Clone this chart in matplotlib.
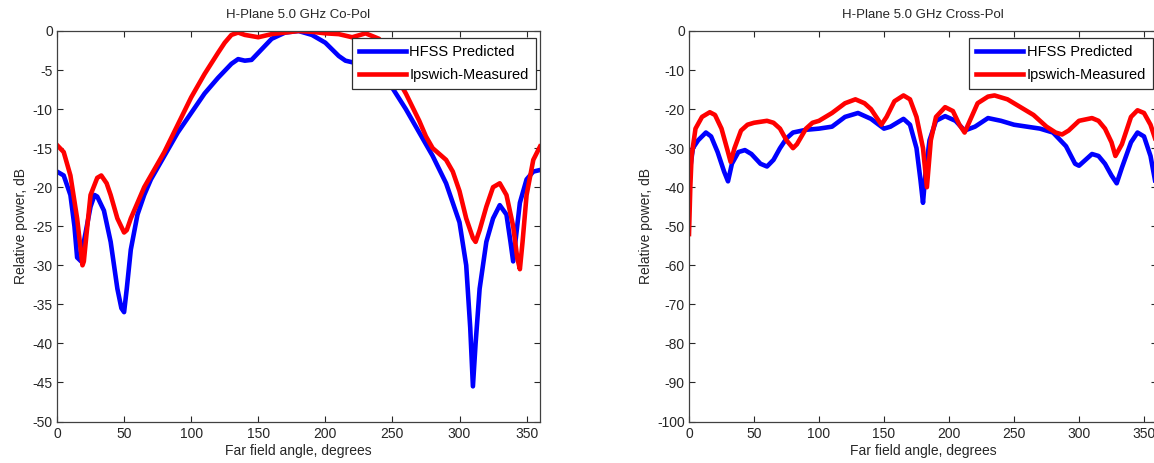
import matplotlib
matplotlib.use("Agg")
import matplotlib.pyplot as plt

plt.rcParams['font.family'] = ['Liberation Sans', 'DejaVu Sans']
plt.rcParams['font.size'] = 10
plt.rcParams['axes.unicode_minus'] = False

# Co-Pol (angle in degrees, level in dB)
co_hfss_ang = [0, 5, 10, 13, 15, 18, 20, 25, 28, 30, 35, 40, 45, 48, 50, 52, 55, 60, 65, 70,
               80, 90, 100, 110, 120, 130, 135, 140, 145, 150, 160, 170, 180, 190, 200, 210,
               215, 220, 230, 240, 250, 260, 270, 280, 290, 300, 305, 308, 310, 312, 315,
               320, 325, 330, 335, 338, 340, 343, 345, 350, 355, 360]
co_hfss_db = [-18, -18.5, -21, -25, -29, -29.5, -27, -22.5, -21, -21.2, -23, -27, -33, -35.5,
              -36, -33, -28, -23.5, -21, -19, -16, -13, -10.5, -8, -6, -4.2, -3.6, -3.8, -3.7,
              -2.8, -1, -0.2, 0, -0.5, -1.5, -3.2, -3.8, -4, -4, -5, -7.3, -10, -13, -16,
              -19.5, -24.5, -30, -38, -45.5, -40, -33, -27, -24, -22.3, -23.5, -27, -29.5,
              -25, -22, -19, -18, -17.8]

co_meas_ang = [0, 5, 10, 15, 18, 19, 20, 22, 25, 30, 33, 37, 40, 45, 50, 52, 55, 60, 65, 70,
               80, 90, 100, 110, 120, 125, 130, 135, 140, 150, 160, 170, 180, 190, 200, 210,
               220, 230, 240, 250, 255, 260, 270, 275, 280, 290, 295, 300, 305, 310, 312,
               315, 320, 325, 330, 335, 340, 343, 345, 347, 350, 355, 360]
co_meas_db = [-14.6, -15.5, -18.5, -24, -28.5, -30, -29.5, -26, -21, -18.8, -18.5, -19.5, -21,
              -24, -25.8, -25.5, -24, -22, -20, -18.5, -15.5, -12, -8.5, -5.5, -2.8, -1.5,
              -0.5, -0.2, -0.5, -0.8, -0.4, -0.2, 0, -0.1, -0.3, -0.4, -0.8, -0.3, -1, -4,
              -6.5, -8, -11.5, -13.5, -15, -16.5, -18, -20.5, -24, -26.5, -27, -25.5, -22.5,
              -20, -19.5, -21, -25, -29, -30.5, -27, -21, -16.5, -14.8]

# Cross-Pol
x_hfss_ang = [0, 1, 3, 7, 13, 17, 22, 27, 30, 33, 38, 43, 48, 55, 60, 65, 70, 75, 80, 90,
              100, 110, 120, 130, 140, 150, 155, 165, 170, 175, 178, 180, 182, 185, 190, 197,
              205, 212, 220, 230, 240, 250, 260, 270, 280, 290, 297, 300, 305, 310, 315, 320,
              325, 329, 333, 340, 345, 350, 355, 360]
x_hfss_db = [-40, -35, -30, -28, -26, -27, -31, -36, -38.5, -34, -31, -30.5, -31.5, -34, -34.7,
             -33, -30, -27.5, -26, -25.3, -25, -24.5, -22, -21, -22.5, -25, -24.5, -22.5, -24,
             -30, -38, -44, -36, -28, -23, -21.8, -23, -25.5, -24.5, -22.3, -23, -24, -24.5,
             -25, -26, -29.5, -34, -34.5, -33, -31.5, -32, -34, -37, -39, -35, -28.5, -26,
             -27, -32, -41]

x_meas_ang = [0, 1, 2, 5, 10, 16, 20, 25, 30, 32, 35, 40, 45, 50, 60, 65, 70, 75, 80, 83, 90,
              95, 100, 110, 120, 128, 135, 140, 145, 148, 152, 158, 165, 170, 175, 180, 183,
              186, 190, 197, 203, 208, 212, 216, 222, 230, 235, 245, 255, 265, 275, 282, 287,
              292, 300, 310, 315, 320, 325, 328, 333, 340, 345, 350, 355, 360]
x_meas_db = [-52, -40, -32, -25, -22, -20.8, -21.5, -25, -31, -33.5, -30, -25.5, -24, -23.5,
             -23, -23.5, -25, -28, -30, -29, -25, -23.5, -23, -21, -18.5, -17.5, -18.5, -20,
             -22.5, -24, -22, -18, -16.5, -17.5, -22, -30, -40, -28, -22, -19.5, -20.5, -24,
             -26, -23, -18.5, -16.8, -16.5, -17.5, -19.5, -21.5, -24.5, -26, -26.5, -25.5,
             -23, -22.3, -23, -25, -28.5, -32, -29, -22, -20.3, -21, -24, -29]

fig = plt.figure(figsize=(11.54, 4.63), dpi=100)
W, H = 1154.0, 463.0
ax1 = fig.add_axes([57 / W, 1 - 421.5 / H, 483 / W, 390.5 / H])
ax2 = fig.add_axes([689 / W, 1 - 421.5 / H, 468 / W, 390.5 / H])


def style(ax, title, ymin, ystep):
    ax.set_xlim(0, 360)
    ax.set_ylim(ymin, 0)
    ax.set_xticks(range(0, 351, 50))
    ax.set_yticks(range(ymin, 1, ystep))
    ax.tick_params(direction='in', top=True, right=True, length=4, width=0.8,
                   colors='#262626', labelcolor='#262626', labelsize=10)
    ax.tick_params(axis='x', pad=4)
    ax.tick_params(axis='y', pad=3)
    for s in ax.spines.values():
        s.set_color('#404040')
        s.set_linewidth(0.9)
    ax.set_title(title, fontsize=9.5, color='#262626', pad=9)
    ax.set_xlabel('Far field angle, degrees', fontsize=10, color='#262626', labelpad=2)
    ax.set_ylabel('Relative power, dB', fontsize=10, color='#262626', labelpad=3)
    leg = ax.legend(loc='upper right', bbox_to_anchor=(0.992, 0.982), fontsize=10.5,
                    fancybox=False, framealpha=1, edgecolor='#303030',
                    handlelength=3.2, borderpad=0.5, labelspacing=0.6,
                    handletextpad=0.25, borderaxespad=0)
    leg.get_frame().set_linewidth(0.9)


ax1.plot(co_hfss_ang, co_hfss_db, color='#0000ff', lw=3.3, label='HFSS Predicted')
ax1.plot(co_meas_ang, co_meas_db, color='#ff0000', lw=3.3, label='Ipswich-Measured')
style(ax1, 'H-Plane 5.0 GHz Co-Pol', -50, 5)

ax2.plot(x_hfss_ang, x_hfss_db, color='#0000ff', lw=3.3, label='HFSS Predicted')
ax2.plot(x_meas_ang, x_meas_db, color='#ff0000', lw=3.3, label='Ipswich-Measured')
style(ax2, 'H-Plane 5.0 GHz Cross-Pol', -100, 10)

fig.savefig('out.png', dpi=100)
